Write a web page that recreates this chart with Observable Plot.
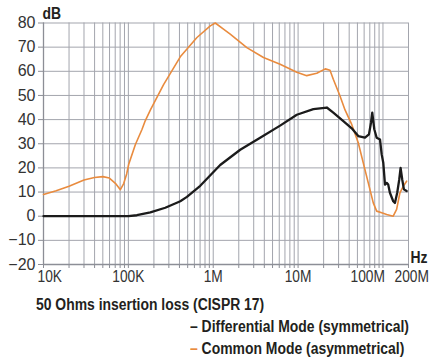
<!DOCTYPE html>
<html><head><meta charset="utf-8">
<script src="https://cdn.jsdelivr.net/npm/d3@7"></script>
<script src="https://cdn.jsdelivr.net/npm/@observablehq/plot@0.6"></script>
<style>
body{margin:0;background:#fff;width:443px;height:359px;overflow:hidden;position:relative;font-family:"Liberation Sans",Arial,sans-serif;}
#chart{position:absolute;left:0;top:0;}
.leg{position:absolute;font-weight:bold;font-size:16px;line-height:16px;color:#231f20;white-space:nowrap;transform:scaleX(0.87);transform-origin:0 0;}
</style></head><body>
<div id="chart"></div>
<div class="leg" style="left:36px;top:297px">50 Ohms insertion loss (CISPR 17)</div>
<div class="leg" style="left:190px;top:319px"><span style="color:#231f20">–</span> Differential Mode (symmetrical)</div>
<div class="leg" style="left:190px;top:341px"><span style="color:#e98b3e">–</span> Common Mode (asymmetrical)</div>
<script>
// Common mode (asymmetrical), orange
const cmFreq = [10000,14100,20000,30000,39800,50000,59700,70300,80500,88100,95500,101000,121000,145000,158000,182000,260000,409000,643000,923000,1057000,1321000,1585000,2489000,3908000,6138000,9660000,12650000,16600000,20900000,23770000,26000000,31190000,35730000,42850000,51170000,58610000,67140000,76910000,84330000,96610000,110700000,132100000,144900000,158500000,173400000,190100000];
const cmDb   = [9.0,10.5,12.4,15.0,16.0,16.4,15.8,13.6,11.0,13.5,17.5,21.5,29.7,36.0,39.5,44.0,54.5,66.0,74.0,78.8,80.0,77.5,75.4,69.8,65.7,62.9,59.6,58.2,59.2,61.0,60.4,56.7,49.8,44.0,38.0,30.4,22.1,13.8,5.5,2.1,1.4,0.7,0.0,2.8,9.7,12.4,14.5];
// Differential mode (symmetrical), black
const dmFreq = [10000,100000,125900,181600,272300,409300,489800,703100,1208000,2080000,3573000,6138000,9661000,15140000,21780000,26000000,34120000,42850000,51170000,61380000,68390000,72280000,74820000,79070000,84330000,92260000,96610000,100900000,105700000,110700000,115300000,120800000,132100000,138400000,147200000,155600000,161400000,168700000,176600000,190100000];
const dmDb   = [0,0,0.4,1.6,3.5,6.2,8.0,12.6,21.2,27.5,32.5,37.5,42.0,44.3,45.0,42.9,39.4,36.4,33.2,32.5,33.9,38.7,42.9,36.0,32.5,31.8,25.6,22.1,13.1,13.8,13.1,9.7,6.2,5.5,9.7,15.2,20.0,15.2,11.1,10.4];

const yTicks = [-20,-10,0,10,20,30,40,50,60,70,80];
const gridX = [1e4,2e4,3e4,4e4,5e4,6e4,7e4,8e4,9e4,1e5,2e5,3e5,4e5,5e5,6e5,7e5,8e5,9e5,1e6,2e6,3e6,4e6,5e6,6e6,7e6,8e6,9e6,1e7,2e7,3e7,4e7,5e7,6e7,7e7,8e7,9e7,1e8,2e8];
const xLabelVals = [1e4,1e5,1e6,1e7,1e8,2e8];
const xLabelText = ["10K","100K","1M","10M","100M","200M"];
const yUnit = "dB", xUnit = "Hz";

const cm = cmFreq.map((f,i)=>({f, v: cmDb[i]}));
const dm = dmFreq.map((f,i)=>({f, v: dmDb[i]}));
const xl = xLabelVals.map((v,i)=>({v, t: xLabelText[i]}));

const grid = "#a3a5ad", axisC = "#8c8e96", ink = "#231f20", tickInk = "#333333";
const font = '"Liberation Sans",Arial,sans-serif';
const lab = {x:"v", text:"t", frameAnchor:"bottom", lineAnchor:"bottom", dy:17.7, fontSize:16, fill:tickInk};

const chart = Plot.plot({
  width: 443, height: 290,
  marginLeft: 43, marginRight: 35, marginTop: 22.5, marginBottom: 26,
  style: {fontFamily: font, background: "#fff", color: ink},
  x: {type: "log", domain: [1e4, 2e8]},
  y: {domain: [-20, 80]},
  marks: [
    Plot.ruleX(gridX, {stroke: grid, strokeWidth: 1}),
    Plot.ruleY(yTicks, {stroke: grid, strokeWidth: 1}),
    Plot.axisY({ticks: yTicks, tickSize: 5, tickPadding: 3, fontSize: 16, stroke: axisC, fill: tickInk, label: null}),
    Plot.axisX({ticks: gridX, tickSize: 4, tickFormat: () => "", stroke: axisC, label: null}),
    Plot.ruleX([1e4], {stroke: axisC, strokeWidth: 1.3}),
    Plot.ruleY([-20], {stroke: axisC, strokeWidth: 1.3}),
    Plot.line(cm, {x: "f", y: "v", stroke: "#e98b3e", strokeWidth: 1.6}),
    Plot.line(dm, {x: "f", y: "v", stroke: "#1b1b1b", strokeWidth: 2.3}),
    Plot.text(xl.filter(d => d.v === 1e4), {...lab, textAnchor: "start", dx: -6}),
    Plot.text(xl.filter(d => d.v > 1e4 && d.v < 1e8), {...lab}),
    Plot.text(xl.filter(d => d.v === 1e8), {...lab, textAnchor: "end", dx: 2}),
    Plot.text(xl.filter(d => d.v === 2e8), {...lab, textAnchor: "start", dx: -14}),
    Plot.text([yUnit], {text: d => d, frameAnchor: "top-left", textAnchor: "start", lineAnchor: "bottom", dx: -1, dy: -4, fontSize: 16, fontWeight: "bold", fill: ink}),
    Plot.text([xUnit], {text: d => d, frameAnchor: "bottom-right", textAnchor: "start", lineAnchor: "bottom", dx: 2, dy: -2, fontSize: 16, fontWeight: "bold", fill: ink})
  ]
});
// condense the text horizontally around each text's own anchor (the reference uses a condensed face)
chart.querySelectorAll("text").forEach(t => {
  if (t.closest('[aria-label="y-axis tick label"]')) return;
  const g = t.closest("g");
  const bold = (t.getAttribute("font-weight") || (g && g.getAttribute("font-weight")) || "") === "bold";
  const tr = t.getAttribute("transform") || "";
  t.setAttribute("transform", tr + (bold ? " scale(0.87,1)" : " scale(0.86,1)"));
});
document.getElementById("chart").appendChild(chart);
</script>
</body></html>
